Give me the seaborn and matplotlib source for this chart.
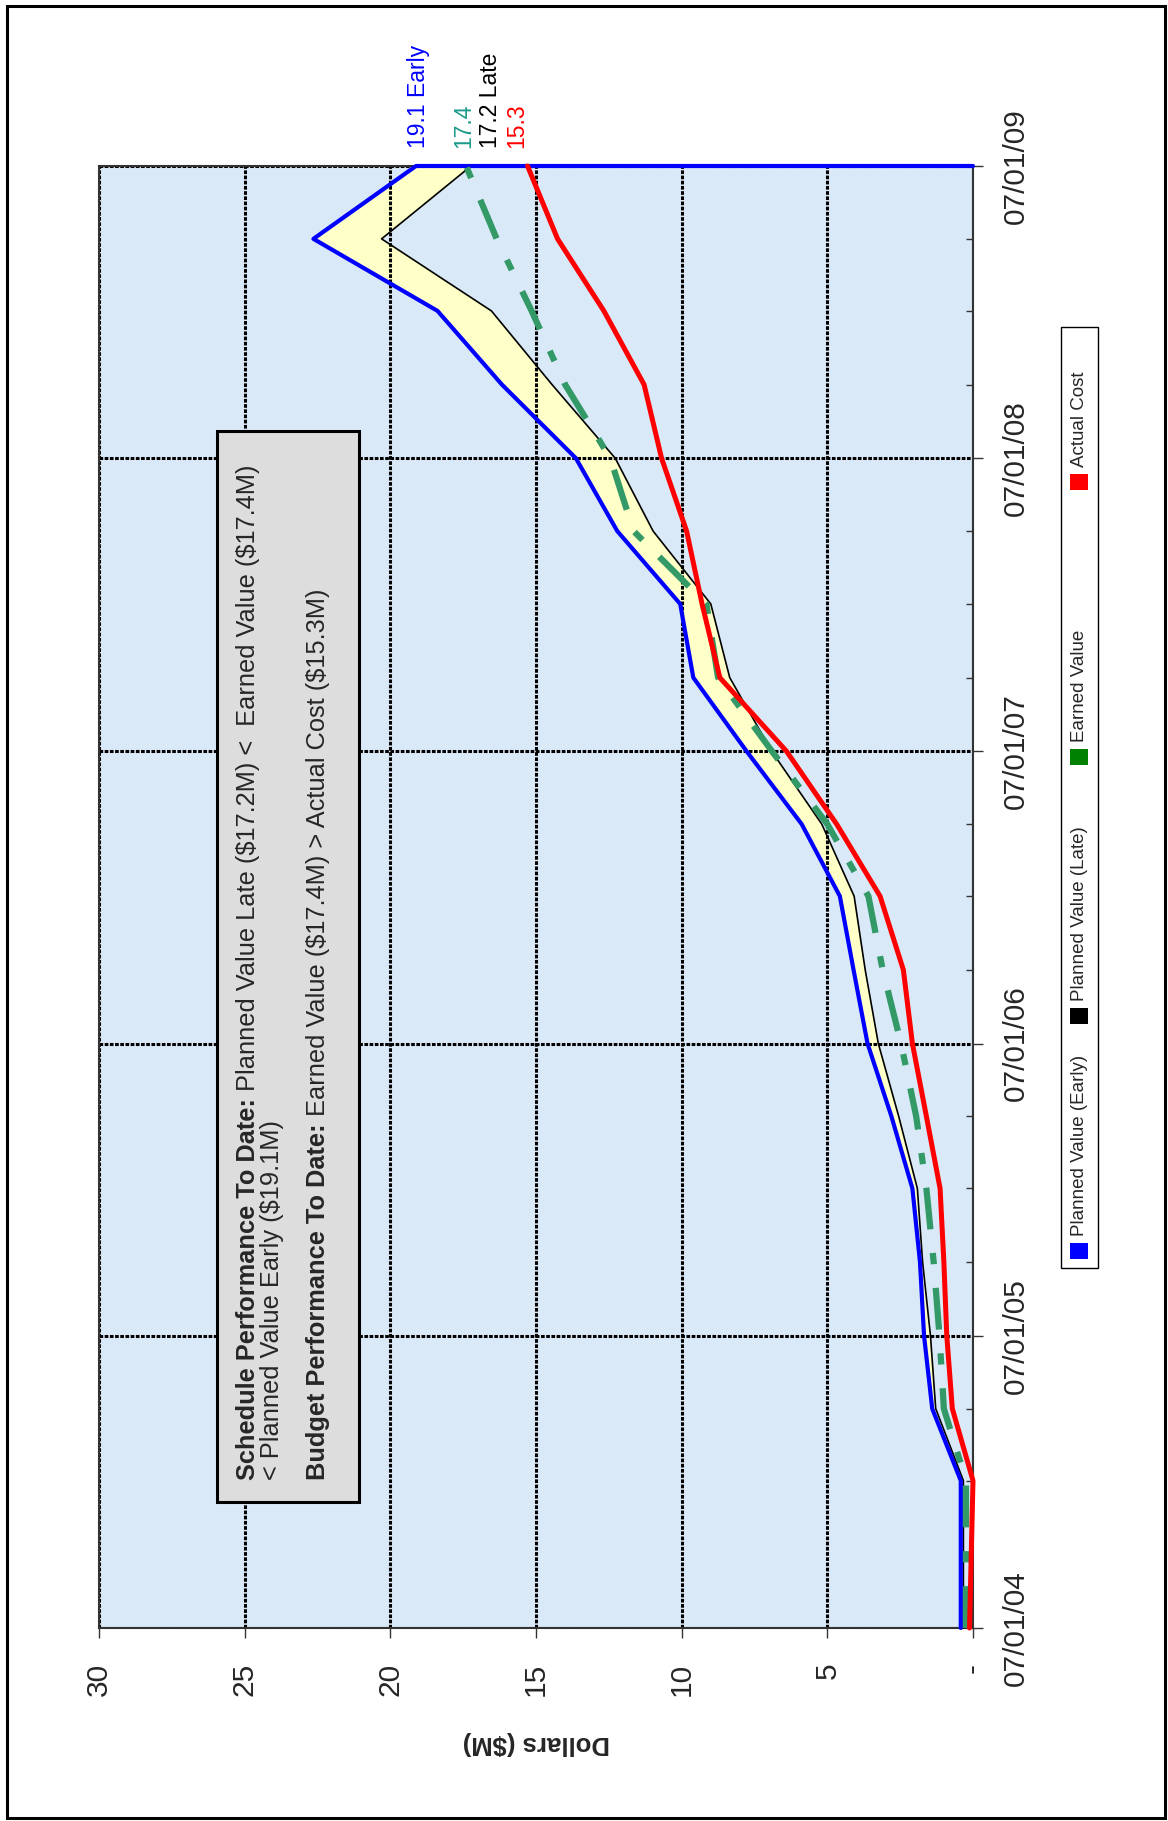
import matplotlib
matplotlib.use("Agg")
import matplotlib.pyplot as plt
import matplotlib.dates as mdates
from matplotlib.patches import Rectangle
import numpy as np
import pandas as pd
import seaborn as sns

# ---------------- data ----------------
quarter_dates = ["2004-07-01", "2004-10-01", "2005-01-01", "2005-04-01", "2005-07-01",
                 "2005-10-01", "2006-01-01", "2006-04-01", "2006-07-01", "2006-10-01",
                 "2007-01-01", "2007-04-01", "2007-07-01", "2007-10-01", "2008-01-01",
                 "2008-04-01", "2008-07-01", "2008-10-01", "2009-01-01", "2009-04-01",
                 "2009-07-01"]
planned_early = [0.42, 0.42, 0.42, 1.40, 1.68, 1.82, 2.08, 2.80, 3.62, 4.10, 4.57,
                 5.88, 7.77, 9.60, 10.05, 12.21, 13.63, 16.17, 18.38, 22.64, 19.12]
planned_late = [0.33, 0.33, 0.33, 1.28, 1.46, 1.73, 1.91, 2.55, 3.25, 3.70, 4.08,
                5.19, 6.91, 8.35, 9.00, 10.98, 12.28, 14.45, 16.53, 20.30, 17.23]
earned_value = [0.24, 0.24, 0.24, 1.00, 1.15, 1.35, 1.60, 1.95, 2.47, 3.10, 3.59,
                5.00, 6.90, 8.75, 9.15, 11.65, 12.45, 14.00, 15.15, 16.35, 17.40]
actual_cost = [0.12, 0.06, 0.00, 0.71, 0.90, 1.00, 1.13, 1.60, 2.08, 2.39, 3.19,
               4.68, 6.40, 8.69, 9.30, 9.83, 10.69, 11.29, 12.67, 14.26, 15.29]
early_final_drop = 0.0
dollar_ticks = [0, 5, 10, 15, 20, 25, 30]
legend_labels = ["Planned Value (Early)", "Planned Value (Late)", "Earned Value", "Actual Cost"]
schedule_head = "Schedule Performance To Date:"
schedule_body = "Planned Value Late ($17.2M) <  Earned Value ($17.4M)"
schedule_line2 = "< Planned Value Early ($19.1M)"
budget_head = "Budget Performance To Date:"
budget_body = "Earned Value ($17.4M) > Actual Cost ($15.3M)"
y_label = "Dollars ($M)"

# ---------------- layout helpers ----------------
W, H, DPI = 1168, 1821, 100


def fx(px):
    return px / W


def fy(py):
    return 1 - py / H


sns.set_theme(style="white")
plt.rcParams["font.family"] = ["Liberation Sans", "DejaVu Sans"]

fig = plt.figure(figsize=(W / DPI, H / DPI), dpi=DPI)
fig.patch.set_facecolor("white")
ax = fig.add_axes([fx(99), fy(1628), fx(973) - fx(99), fy(166) - fy(1628)])
ax.set_facecolor("#DAE9F8")

dates = pd.to_datetime(quarter_dates)
tnum = mdates.date2num(dates)
df = pd.DataFrame({"t": tnum, "early": planned_early, "late": planned_late,
                   "earned": earned_value, "actual": actual_cost})

# yellow band between early and late planned value
ax.fill_betweenx(df["t"], df["early"], df["late"], color="#FFFFC8", lw=0, zorder=1)

common = dict(ax=ax, sort=False, estimator=None, orient="y", legend=False, clip_on=False)
sns.lineplot(x=df["late"], y=df["t"], color="black", lw=1.2, zorder=4, **common)
early_t = np.append(tnum, tnum[-1])
early_v = planned_early + [early_final_drop]
sns.lineplot(x=early_v, y=early_t, color="#0000FF", lw=3.0, zorder=5, **common)
sns.lineplot(x=df["earned"], y=df["t"], color="#339966", lw=4.5,
             linestyle=(0, (6.7, 3.8, 1.8, 3.8)), zorder=6, **common)
sns.lineplot(x=df["actual"], y=df["t"], color="#FF0000", lw=3.6, zorder=7, **common)

# axes ranges / grid
ax.set_xlim(dollar_ticks[-1], dollar_ticks[0])
ax.set_ylim(tnum[0], tnum[-1])
ax.set_axisbelow("line")
ax.grid(True, which="major", color="black", linestyle=(0, (1.2, 0.5)), linewidth=2.2)
for s in ax.spines.values():
    s.set_visible(True)
    s.set_color("#333333")
    s.set_linewidth(1.5)

# dollar axis (bottom)
ax.set_xticks(dollar_ticks)
ax.set_xticklabels(["-" if v == 0 else str(v) for v in dollar_ticks],
                   rotation=90, ha="center", va="top", fontsize=21.5)
ax.tick_params(axis="x", which="major", bottom=True, top=False, direction="out",
               length=7, width=1, color="#333333", pad=18)

# date axis (right)
year_mask = dates.month == 7
ax.set_yticks(tnum[year_mask])
ax.set_yticks(tnum, minor=True)
ax.yaxis.tick_right()
ax.set_yticklabels(dates[year_mask].strftime("%m/%d/%y"), rotation=90,
                   va="center", ha="left", fontsize=21.5)
ax.tick_params(axis="y", which="major", left=False, right=True, direction="out",
               length=7, width=1, color="#333333", pad=14,
               labelleft=False, labelright=True)
ax.tick_params(axis="y", which="minor", left=False, right=True, direction="in",
               length=5, width=1, color="#333333")
ax.set_ylabel("")

ax.set_xlabel(y_label, fontsize=18.5, fontweight="bold", rotation=180)
ax.xaxis.set_label_coords(0.5, (1628 - 1743) / (1628 - 166))
ax.xaxis.label.set_va("center")

# end-of-series value labels
end_specs = [
    (planned_early[-1], f"{planned_early[-1]:.1f} Early", "#0000FF", 2),
    (earned_value[-1], f"{earned_value[-1]:.1f}", "#1A9A8A", -2),
    (planned_late[-1], f"{planned_late[-1]:.1f} Late", "black", 14),
    (actual_cost[-1], f"{actual_cost[-1]:.1f}", "#FF0000", -8),
]
for v, txt, c, dx in end_specs:
    ax.annotate(txt, xy=(v, tnum[-1]), xytext=(dx, 13), textcoords="offset points",
                rotation=90, rotation_mode="anchor", ha="left", va="center",
                fontsize=16.5, color=c, annotation_clip=False)

# ---------------- legend (rotated, manual) ----------------
fig.add_artist(Rectangle((fx(1061), fy(1268)), fx(1098) - fx(1061), fy(327) - fy(1268),
                         transform=fig.transFigure, facecolor="white", edgecolor="black",
                         lw=1.0, zorder=5))
leg_colors = ["#0000FF", "#000000", "#008000", "#FF0000"]
leg_patch_y = [1251, 1016, 757, 482]
leg_text_y = [1236, 1001, 742, 467]
for lab, c, py, ty in zip(legend_labels, leg_colors, leg_patch_y, leg_text_y):
    fig.add_artist(Rectangle((fx(1070), fy(py + 8)), fx(1088) - fx(1070), fy(py - 8) - fy(py + 8),
                             transform=fig.transFigure, facecolor=c, edgecolor="none", zorder=6))
    fig.text(fx(1080), fy(ty), lab, rotation=90, rotation_mode="anchor", ha="left",
             va="center", fontsize=13.5, zorder=7)

# ---------------- annotation box ----------------
fig.add_artist(Rectangle((fx(217), fy(1502)), fx(359) - fx(217), fy(431) - fy(1502),
                         transform=fig.transFigure, facecolor="#DDDDDD", edgecolor="black",
                         lw=2.2, zorder=5))
fs_box = 18.3


def rot_text(px, py, s, weight="normal"):
    return fig.text(fx(px), fy(py), s, rotation=90, rotation_mode="anchor", ha="left",
                    va="baseline", fontsize=fs_box, fontweight=weight, zorder=7,
                    parse_math=False)


b1 = rot_text(255, 1480, schedule_head, "bold")
rot_text(279, 1480, schedule_line2)
b3 = rot_text(325, 1480, budget_head, "bold")
renderer = fig.canvas.get_renderer()
gap = 0.28 * fs_box * DPI / 72
for b, s, px in [(b1, schedule_body, 255), (b3, budget_body, 325)]:
    bb = b.get_window_extent(renderer)
    rot_text(px, (H - bb.y1) - gap, s)

# outer frame
fig.add_artist(Rectangle((fx(7), fy(1818)), fx(1165) - fx(7), fy(6) - fy(1818),
                         transform=fig.transFigure, fill=False, edgecolor="black",
                         lw=2.2, zorder=10))

fig.savefig("out.png", dpi=DPI)
